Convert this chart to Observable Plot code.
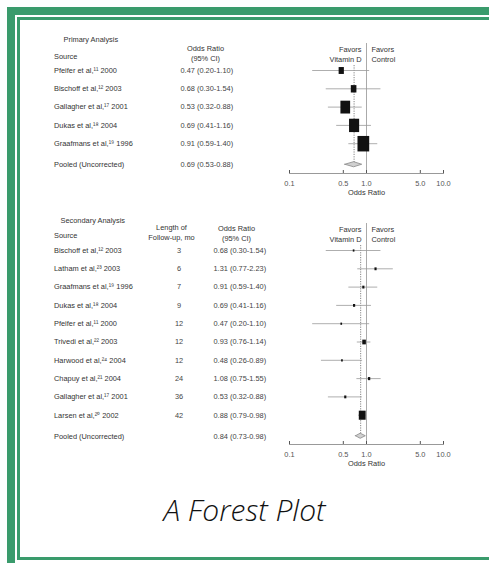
<!DOCTYPE html>
<html><head><meta charset="utf-8">
<script src="https://cdn.jsdelivr.net/npm/d3@7"></script>
<script src="https://cdn.jsdelivr.net/npm/@observablehq/plot@0.6"></script>
<style>
html,body{margin:0;padding:0;background:#fff;}
body{width:489px;height:563px;position:relative;overflow:hidden;font-family:"Liberation Sans",Arial,sans-serif;}
.frame-outer{position:absolute;left:7px;top:7px;width:700px;height:700px;border-left:8px solid #3a9b6c;border-top:8px solid #3a9b6c;}
.frame-inner{position:absolute;left:17px;top:17px;width:700px;height:537px;border-left:3px solid #3a9b6c;border-top:3px solid #3a9b6c;border-bottom:3px solid #3a9b6c;}
.panel{position:absolute;left:0;}
#title{position:absolute;left:0;width:489px;top:495px;text-align:center;font:italic 300 30px "Open Sans",sans-serif;line-height:1;color:#111;}
</style></head><body>
<div class="frame-outer"></div>
<div class="frame-inner"></div>
<div id="primary" class="panel" style="top:0px"></div>
<div id="secondary" class="panel" style="top:180px"></div>
<div id="title">A Forest Plot</div>
<script>
// ---------- data ----------
const tickValues = [0.1, 0.5, 1, 5, 10];

const primarySources = ["Pfeifer et al,", "Bischoff et al,", "Gallagher et al,", "Dukas et al,", "Graafmans et al,"];
const primaryRefs = [11, 12, 17, 18, 19];
const primaryYears = [2000, 2003, 2001, 2004, 1996];
const primaryOR = [0.47, 0.68, 0.53, 0.69, 0.91];
const primaryLow = [0.20, 0.30, 0.32, 0.41, 0.59];
const primaryHigh = [1.10, 1.54, 0.88, 1.16, 1.40];
const primaryWeight = [7, 8, 24, 26, 35];
const primaryPooled = [0.69, 0.53, 0.88];

const secondarySources = ["Bischoff et al,", "Latham et al,", "Graafmans et al,", "Dukas et al,", "Pfeifer et al,", "Trivedi et al,", "Harwood et al,", "Chapuy et al,", "Gallagher et al,", "Larsen et al,"];
const secondaryRefs = [12, 23, 19, 18, 11, 22, 24, 21, 17, 20];
const secondaryYears = [2003, 2003, 1996, 2004, 2000, 2003, 2004, 2004, 2001, 2002];
const secondaryFollowUp = [3, 6, 7, 9, 12, 12, 12, 24, 36, 42];
const secondaryOR = [0.68, 1.31, 0.91, 0.69, 0.47, 0.93, 0.48, 1.08, 0.53, 0.88];
const secondaryLow = [0.30, 0.77, 0.59, 0.41, 0.20, 0.76, 0.26, 0.75, 0.32, 0.79];
const secondaryHigh = [1.54, 2.23, 1.40, 1.16, 1.10, 1.14, 0.89, 1.55, 0.88, 0.98];
const secondaryWeight = [3, 5, 5, 5, 3, 14, 3, 6, 5, 51];
const secondaryPooled = [0.84, 0.73, 0.98];

// ---------- helpers ----------
const SUP = "⁰¹²³⁴⁵⁶⁷⁸⁹";
const sup = n => String(n).replace(/\d/g, d => SUP[+d]);
const f2 = d3.format(".2f");
const ciText = (o, l, h) => `${f2(o)} (${f2(l)}-${f2(h)})`;

const boxSymbol = {
  draw(ctx, size) {
    const s = Math.sqrt(size), w = s * 0.87, h = s * 1.15;
    ctx.moveTo(-w / 2, -h / 2); ctx.lineTo(w / 2, -h / 2); ctx.lineTo(w / 2, h / 2); ctx.lineTo(-w / 2, h / 2); ctx.closePath();
  }
};

const ML = 289, MR = 46, MT = 43, ROW0 = 70, STEP = 18.3, GAP = 0.15, FS = 7.4;
const TXT = "#333";

function panel(cfg) {
  const n = cfg.or.length;
  const rows = d3.range(n).map(i => ({
    i,
    label: cfg.sources[i] + sup(cfg.refs[i]) + " " + cfg.years[i],
    or: cfg.or[i], lo: cfg.lo[i], hi: cfg.hi[i], w: cfg.weight[i],
    fu: cfg.follow ? cfg.follow[i] : null,
    ci: ciText(cfg.or[i], cfg.lo[i], cfg.hi[i])
  }));
  const p = n + GAP;
  const [pe, pl, ph] = cfg.pooled;
  const dh = 0.14;
  const diamond = [
    {x: pl, y1: p, y2: p},
    {x: pe, y1: p - dh, y2: p + dh},
    {x: ph, y1: p, y2: p}
  ];
  const at = (px, py) => ({frameAnchor: "top-left", lineAnchor: "middle", dx: px - ML, dy: py - MT});
  const H = cfg.height, MB = H - cfg.axisY;
  const marks = [
    Plot.ruleX([1], {stroke: "#aaa", strokeWidth: 1}),
    Plot.ruleX([pe], {y1: 0, y2: p, insetTop: -5, stroke: "#666", strokeWidth: 0.8, strokeDasharray: "1.2,1.2"}),
    Plot.ruleY(rows, {y: "i", x1: "lo", x2: "hi", stroke: "#999", strokeWidth: 0.8}),
    Plot.dot(rows, {x: "or", y: "i", r: "w", symbol: boxSymbol, fill: "#111", stroke: null}),
    Plot.areaY(diamond, {x: "x", y1: "y1", y2: "y2", fill: "#d0d0d0", stroke: "#888", strokeWidth: 0.8}),
    Plot.frame({anchor: "bottom", stroke: "#999"}),
    Plot.axisX({ticks: tickValues, tickFormat: d3.format(".1f"), tickSize: -3, tickPadding: 10, color: "#555", label: null, fontSize: FS}),
    Plot.text(["Odds Ratio"], {frameAnchor: "bottom", lineAnchor: "middle", dy: 19, fontSize: FS, fill: TXT}),
    Plot.text(["Favors\nVitamin D"], {x: () => 1, frameAnchor: "top", textAnchor: "end", lineAnchor: "top", dx: -5, dy: 1.5, lineHeight: 1.35, fontSize: FS, fill: TXT}),
    Plot.text(["Favors\nControl"], {x: () => 1, frameAnchor: "top", textAnchor: "start", lineAnchor: "top", dx: 5, dy: 1.5, lineHeight: 1.35, fontSize: FS, fill: TXT}),
    // headers
    Plot.text([cfg.title], {...at(cfg.titleX, cfg.titleY), textAnchor: "start", fontSize: FS, fill: TXT}),
    Plot.text(["Source"], {...at(53.5, cfg.sourceY), textAnchor: "start", fontSize: FS, fill: TXT}),
    Plot.text(["Odds Ratio\n(95% CI)"], {...at(cfg.orHeadX, 52), textAnchor: "middle", lineHeight: 1.35, fontSize: FS, fill: TXT}),
    // rows
    Plot.text(rows, {y: "i", text: "label", frameAnchor: "left", lineAnchor: "middle", dx: 53.5 - ML, textAnchor: "start", fontSize: FS, fill: TXT}),
    Plot.text(rows, {y: "i", text: "ci", frameAnchor: "left", lineAnchor: "middle", dx: cfg.ciX - ML, textAnchor: "start", fontSize: FS, fill: "#444"}),
    Plot.text(["Pooled (Uncorrected)"], {y: () => p, frameAnchor: "left", lineAnchor: "middle", dx: 53.5 - ML, textAnchor: "start", fontSize: FS, fill: TXT}),
    Plot.text([ciText(pe, pl, ph)], {y: () => p, frameAnchor: "left", lineAnchor: "middle", dx: cfg.ciX - ML, textAnchor: "start", fontSize: FS, fill: "#444"})
  ];
  if (cfg.follow) {
    marks.push(
      Plot.text(["Length of\nFollow-up, mo"], {...at(171, 51), textAnchor: "middle", lineHeight: 1.35, fontSize: FS, fill: TXT}),
      Plot.text(rows, {y: "i", text: "fu", frameAnchor: "left", lineAnchor: "middle", dx: 178.5 - ML, textAnchor: "middle", fontSize: FS, fill: "#444"})
    );
  }
  return Plot.plot({
    width: 489, height: H,
    marginLeft: ML, marginRight: MR, marginTop: MT, marginBottom: MB,
    style: {fontFamily: "'Liberation Sans', Arial, sans-serif", fontSize: FS + "px", background: "transparent", color: TXT, overflow: "visible"},
    x: {type: "log", domain: [0.1, 10], axis: null},
    y: {type: "linear", domain: [0, 1], range: [ROW0, ROW0 + STEP], axis: null},
    r: {type: "sqrt", domain: [0, d3.max(cfg.weight)], range: [0, cfg.rmax]},
    marks
  });
}

document.getElementById("primary").append(panel({
  title: "Primary Analysis", titleX: 63, titleY: 39, sourceY: 56, orHeadX: 205, ciX: 180,
  sources: primarySources, refs: primaryRefs, years: primaryYears,
  or: primaryOR, lo: primaryLow, hi: primaryHigh, weight: primaryWeight, pooled: primaryPooled,
  height: 200, axisY: 173, rmax: 7.6
}));

document.getElementById("secondary").append(panel({
  title: "Secondary Analysis", titleX: 60, titleY: 40, sourceY: 55, orHeadX: 236, ciX: 213,
  sources: secondarySources, refs: secondaryRefs, years: secondaryYears, follow: secondaryFollowUp,
  or: secondaryOR, lo: secondaryLow, hi: secondaryHigh, weight: secondaryWeight, pooled: secondaryPooled,
  height: 300, axisY: 264, rmax: 4.45
}));
</script>
</body></html>
